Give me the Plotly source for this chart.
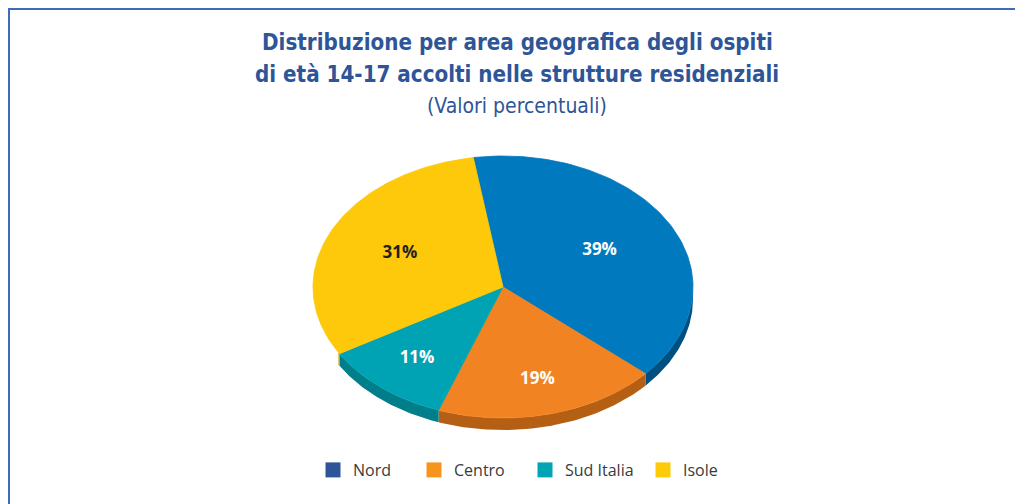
import numpy as np
import plotly.graph_objects as go

# dati
aree = ["Nord", "Centro", "Sud Italia", "Isole"]
valori = [39, 19, 11, 31]
etichette = ["39%", "19%", "11%", "31%"]

colori_top = ["#0079BE", "#F28322", "#00A3B4", "#FDC90A"]
colori_lato = ["#00507F", "#B55F14", "#007F8A", "#C89A00"]
colori_legenda = ["#2E5597", "#F7941E", "#00A5B5", "#FFCB08"]
colori_testo = ["white", "white", "white", "#231F20"]
raggio_etichette = [0.58, 0.73, 0.71, 0.6]
legenda_x = [326, 427, 538, 656]  # bordo sinistro dei quadratini (pixel finestra)

# geometria dell'ellisse (pixel della finestra; il body ha 8px di margine)
CX, CY, RX, RY, DEPTH = 503, 287, 190, 131, 12
START = -9.0
OFF = 8

fig = go.Figure()

quote = np.array(valori) / sum(valori) * 360.0
inizi = START + np.concatenate([[0], np.cumsum(quote)[:-1]])


def punto(a, r=1.0, dy=0.0):
    t = np.radians(a)
    return CX + RX * r * np.sin(t), CY - RY * r * np.cos(t) + dy


# lati (spessore) visibili sul davanti
for i in range(len(valori)):
    a0, a1 = inizi[i], inizi[i] + quote[i]
    lo, hi = max(a0, 90), min(a1, 240)
    if hi <= lo:
        continue
    aa = np.linspace(lo, hi, 80)
    xs, ys = punto(aa)
    xb, yb = punto(aa[::-1], dy=DEPTH)
    fig.add_trace(go.Scatter(
        x=np.concatenate([xs, xb]), y=np.concatenate([ys, yb]),
        fill="toself", fillcolor=colori_lato[i], mode="lines",
        line=dict(width=0), hoverinfo="skip", showlegend=False))

# spicchi
for i in range(len(valori)):
    aa = np.linspace(inizi[i], inizi[i] + quote[i], 120)
    xs, ys = punto(aa)
    fig.add_trace(go.Scatter(
        x=np.concatenate([[CX], xs, [CX]]), y=np.concatenate([[CY], ys, [CY]]),
        fill="toself", fillcolor=colori_top[i], mode="lines",
        line=dict(width=0.8, color=colori_top[i]), name=aree[i],
        hoverinfo="name", showlegend=False))

# etichette percentuali
for i in range(len(valori)):
    mx, my = punto(inizi[i] + quote[i] / 2, r=raggio_etichette[i])
    fig.add_trace(go.Scatter(
        x=[mx], y=[my], mode="text", text=["<b>" + etichette[i] + "</b>"],
        textfont=dict(family="Open Sans", size=17, color=colori_testo[i]),
        hoverinfo="skip", showlegend=False))

# voci di legenda, una legenda per voce per replicare le spaziature
leg_layout = {}
for i in range(len(valori)):
    nome = "legend" if i == 0 else f"legend{i + 1}"
    fig.add_trace(go.Scatter(
        x=[None], y=[None], mode="markers", name=aree[i], legend=nome,
        marker=dict(symbol="square", size=15, color=colori_legenda[i])))
    leg_layout[nome] = dict(
        x=(legenda_x[i] - OFF - 13) / 1023, xanchor="left",
        y=1 - (470 - OFF) / 504, yanchor="middle",
        font=dict(family="Open Sans", size=16, color="#3A3A3A"),
        itemclick=False, itemwidth=30, bgcolor="rgba(0,0,0,0)")

fig.add_annotation(x=517, y=42, xref="x", yref="y", showarrow=False,
                   text="<b>Distribuzione per area geografica degli ospiti</b>",
                   font=dict(family="DejaVu Sans Condensed", size=22.2, color="#2E5597"))
fig.add_annotation(x=517, y=74, xref="x", yref="y", showarrow=False,
                   text="<b>di età 14-17 accolti nelle strutture residenziali</b>",
                   font=dict(family="DejaVu Sans Condensed", size=22.2, color="#2E5597"))
fig.add_annotation(x=517, y=106, xref="x", yref="y", showarrow=False,
                   text="(Valori percentuali)",
                   font=dict(family="DejaVu Sans Condensed", size=21, color="#2E5597"))

# cornice
fig.add_shape(type="rect", xref="x", yref="y", x0=9, y0=9, x1=1060, y1=540,
              line=dict(color="#3D6DB5", width=2))

fig.update_xaxes(range=[OFF, 1023 + OFF], visible=False, fixedrange=True)
fig.update_yaxes(range=[504 + OFF, OFF], visible=False, fixedrange=True)
fig.update_layout(
    width=1023, height=504,
    margin=dict(l=0, r=0, t=0, b=0, autoexpand=False),
    paper_bgcolor="white", plot_bgcolor="white",
    showlegend=True,
    **leg_layout,
)

fig.write_html("out.html")
